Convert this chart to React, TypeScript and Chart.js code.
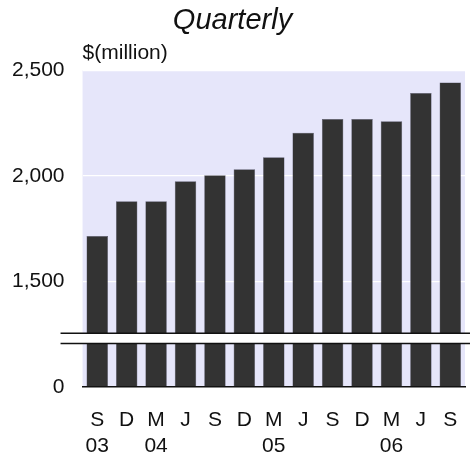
import React, { useEffect, useRef } from 'react';
import { Chart, registerables } from 'chart.js';

Chart.register(...registerables);

const months = ['S', 'D', 'M', 'J', 'S', 'D', 'M', 'J', 'S', 'D', 'M', 'J', 'S'];
const years = ['03', '', '04', '', '', '', '05', '', '', '', '06', '', ''];
const revenue = [1716, 1880, 1880, 1975, 2003, 2032, 2089, 2205, 2270, 2270, 2260, 2394, 2443];
// broken axis: the bottom tick value is displayed as "0"
const yTickValues = [1000, 1500, 2000, 2500];
const yTickLabels = ['0', '1,500', '2,000', '2,500'];
const BREAK_TOP = 1254;
const BREAK_BOTTOM = 1206;

const FONT = "'Liberation Sans', Arial, sans-serif";
const X_PAD = 20;
const Y_PAD = 18;

export default function App() {
  const ref = useRef<HTMLCanvasElement | null>(null);

  useEffect(() => {
    const canvas = ref.current;
    if (!canvas) return;

    const plotBg = {
      id: 'plotBg',
      beforeDraw(chart: any) {
        const { ctx, chartArea: a } = chart;
        ctx.save();
        ctx.fillStyle = '#E6E6FA';
        ctx.fillRect(a.left, a.top, a.right - a.left, a.bottom - a.top);
        ctx.restore();
      },
      afterDatasetsDraw(chart: any) {
        const { ctx, chartArea: a } = chart;
        const y = chart.scales.y;
        const t = y.getPixelForValue(BREAK_TOP);
        const b = y.getPixelForValue(BREAK_BOTTOM);
        const x0 = a.left - 22;
        ctx.save();
        ctx.fillStyle = '#ffffff';
        ctx.fillRect(x0, t, chart.width - x0, b - t);
        ctx.strokeStyle = '#111111';
        ctx.lineWidth = 1.5;
        ctx.beginPath();
        ctx.moveTo(x0, t);
        ctx.lineTo(chart.width, t);
        ctx.moveTo(x0, b);
        ctx.lineTo(chart.width, b);
        ctx.stroke();
        ctx.restore();
      },
    };

    const chart = new Chart(canvas, {
      type: 'bar',
      data: {
        labels: months.map((m, i) => [m, years[i]]),
        datasets: [
          {
            data: revenue,
            base: yTickValues[0],
            backgroundColor: '#333333',
            borderColor: '#55556a',
            borderWidth: 0.5,
            barPercentage: 0.73,
            categoryPercentage: 1,
          } as any,
        ],
      },
      options: {
        animation: false,
        responsive: false,
        maintainAspectRatio: false,
        layout: { padding: { left: 0, right: 5, top: 0, bottom: 0 } },
        plugins: {
          legend: { display: false },
          tooltip: { enabled: false },
          title: {
            display: true,
            text: 'Quarterly',
            color: '#111111',
            font: { family: FONT, size: 29, style: 'italic', weight: 'normal', lineHeight: 1.15 },
            padding: { top: 4, bottom: 3 },
          },
          subtitle: {
            display: true,
            text: '$(million)',
            align: 'start',
            fullSize: false,
            color: '#111111',
            font: { family: FONT, size: 21, weight: 'normal', lineHeight: 1.2 },
            padding: { top: 0, bottom: 5 },
          },
        },
        scales: {
          x: {
            z: 1,
            grid: { display: false, drawTicks: false },
            border: { display: true, color: '#111111', width: 1.5 },
            ticks: {
              color: '#111111',
              font: { family: FONT, size: 21, lineHeight: 1.24 },
              padding: X_PAD,
              maxRotation: 0,
              autoSkip: false,
            },
            afterFit(scale: any) {
              scale.paddingLeft = 0;
              scale.paddingRight = 0;
              scale.height = scale.height - X_PAD;
            },
          },
          y: {
            min: yTickValues[0],
            max: yTickValues[yTickValues.length - 1],
            afterBuildTicks(scale: any) {
              scale.ticks = yTickValues.map((v) => ({ value: v }));
            },
            afterFit(scale: any) {
              scale.paddingTop = 0;
              scale.paddingBottom = 0;
              scale.width = scale.width - 6;
            },
            grid: { color: '#ffffff', lineWidth: 1.2, drawTicks: false },
            border: { display: false },
            ticks: {
              color: '#111111',
              font: { family: FONT, size: 21 },
              padding: Y_PAD,
              callback: (v: any) => yTickLabels[yTickValues.indexOf(Number(v))] ?? '',
            },
          },
        },
      },
      plugins: [plotBg],
    });

    return () => chart.destroy();
  }, []);

  return (
    <div style={{ position: 'fixed', left: 0, top: 0, width: 470, height: 459, background: '#fff' }}>
      <canvas ref={ref} width={470} height={459} style={{ width: 470, height: 459, display: 'block' }} />
    </div>
  );
}
